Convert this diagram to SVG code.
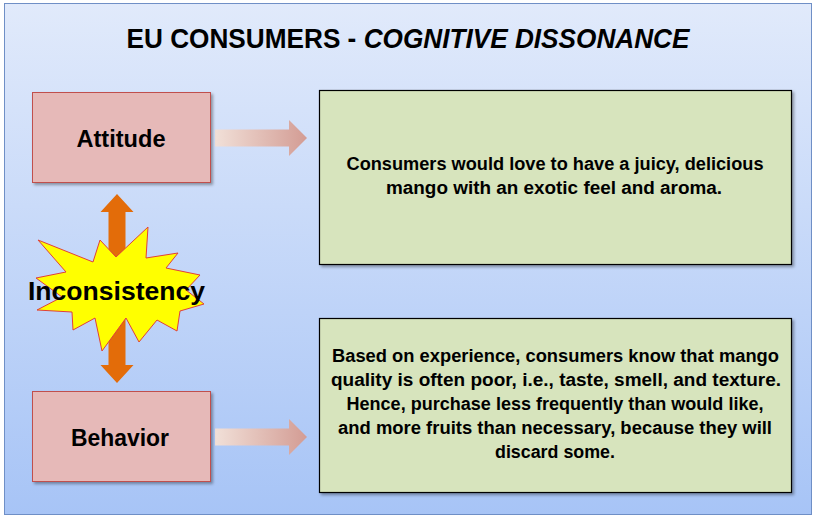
<svg xmlns="http://www.w3.org/2000/svg" width="816" height="522" viewBox="0 0 816 522">
<defs>
<linearGradient id="bg" x1="0" y1="0" x2="0" y2="1">
<stop offset="0" stop-color="#e1eafb"/>
<stop offset="1" stop-color="#a7c4f6"/>
</linearGradient>
<linearGradient id="arr" x1="0" y1="0" x2="1" y2="0">
<stop offset="0" stop-color="#f1e0d8"/>
<stop offset="1" stop-color="#d39c94"/>
</linearGradient>
<filter id="sh" x="-10%" y="-10%" width="130%" height="130%">
<feDropShadow dx="2" dy="2" stdDeviation="1.5" flood-color="#000" flood-opacity="0.35"/>
</filter>
</defs>
<style>
.t{font-family:"Liberation Sans",Arial,sans-serif;font-weight:bold;fill:#000;text-anchor:middle}
.pink{fill:#e6b9b8;stroke:#c0504d;stroke-width:1}
.green{fill:#d7e4bd;stroke:#000;stroke-width:1.2}
.body{font-size:18px}
</style>
<rect x="4.5" y="3.5" width="807" height="511" fill="url(#bg)" stroke="#6f8fc6" stroke-width="1"/>
<text class="t" x="408" y="48" font-size="27" textLength="563" lengthAdjust="spacingAndGlyphs">EU CONSUMERS - <tspan font-style="italic">COGNITIVE DISSONANCE</tspan></text>

<g id="connectors">
<path d="M215 129.5 H289 V120 L307 138 L289 156 V146.5 H215 Z" fill="url(#arr)"/>
<path d="M215 428.5 H289 V419 L307 437 L289 455 V445.5 H215 Z" fill="url(#arr)"/>
<path d="M117 194 L133.5 212 H125.5 V365 H133.5 L117 383 L100.5 365 H108.5 V212 H100.5 Z" fill="#e36c09"/>
</g>

<g id="attitude">
<rect class="pink" x="32.5" y="92.5" width="178" height="90" filter="url(#sh)"/>
<text class="t" x="121" y="147" font-size="23" textLength="89" lengthAdjust="spacingAndGlyphs">Attitude</text>
</g>
<g id="behavior">
<rect class="pink" x="32.5" y="391.5" width="178" height="90" filter="url(#sh)"/>
<text class="t" x="120" y="446" font-size="23" textLength="98" lengthAdjust="spacingAndGlyphs">Behavior</text>
</g>

<g id="inconsistency">
<polygon points="38,240 93,262 100,240 116,257 148,227 146,258 178,253 166,268 200,275 186,290 204,304 180,311 177,331 157,320 139,342 126,318 102,351 95,318 73,330 72,312 37,310 62,297 36,278 66,272" fill="#ffff00" stroke="#e0403a" stroke-width="1" stroke-linejoin="miter"/>
<text class="t" x="116.5" y="300" font-size="26" textLength="177" lengthAdjust="spacingAndGlyphs">Inconsistency</text>
</g>

<g id="attitude-desc">
<rect class="green" x="319.5" y="90.5" width="472" height="174" filter="url(#sh)"/>
<text class="t body" x="555" y="170" textLength="417" lengthAdjust="spacingAndGlyphs">Consumers would love to have a juicy, delicious</text>
<text class="t body" x="554" y="194" textLength="336" lengthAdjust="spacingAndGlyphs">mango with an exotic feel and aroma.</text>
</g>

<g id="behavior-desc">
<rect class="green" x="319.5" y="318.5" width="472" height="174" filter="url(#sh)"/>
<text class="t body" x="555.5" y="362" textLength="447" lengthAdjust="spacingAndGlyphs">Based on experience, consumers know that mango</text>
<text class="t body" x="556" y="386" textLength="450" lengthAdjust="spacingAndGlyphs">quality is often poor, i.e., taste, smell, and texture.</text>
<text class="t body" x="555" y="410" textLength="417" lengthAdjust="spacingAndGlyphs">Hence, purchase less frequently than would like,</text>
<text class="t body" x="555" y="434" textLength="434" lengthAdjust="spacingAndGlyphs">and more fruits than necessary, because they will</text>
<text class="t body" x="555" y="458" textLength="120" lengthAdjust="spacingAndGlyphs">discard some.</text>
</g>
</svg>
